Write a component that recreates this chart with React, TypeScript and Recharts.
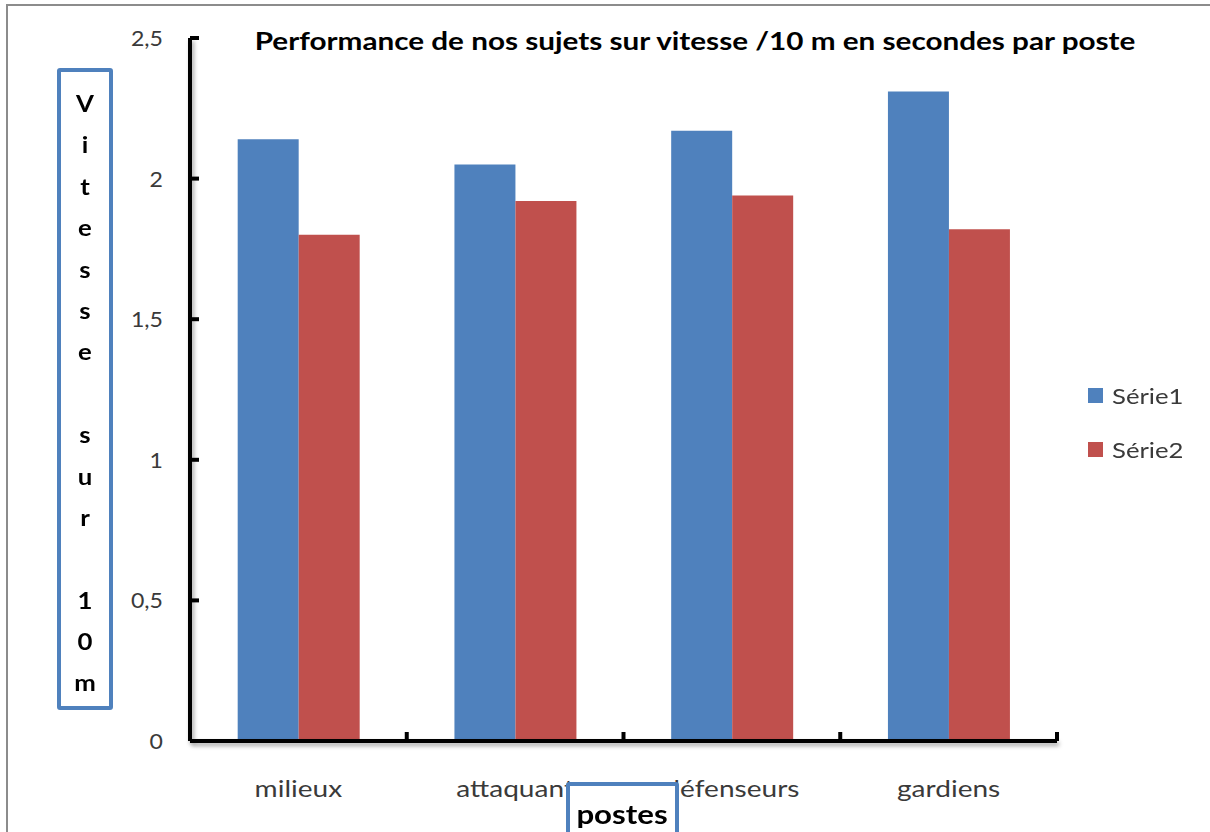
import { BarChart, Bar, XAxis, YAxis, Legend } from "recharts";

const categories = ["milieux", "attaquant", "défenseurs", "gardiens"];
const serie1 = [2.14, 2.05, 2.17, 2.31];
const serie2 = [1.8, 1.92, 1.94, 1.82];
const yTicks = [0, 0.5, 1, 1.5, 2, 2.5];

const data = categories.map((name, i) => ({
  name,
  s1: serie1[i],
  s2: serie2[i],
}));

const BLUE = "#4F81BD";
const RED = "#C0504D";
const FONT = "Lato, 'Open Sans', sans-serif";
const TEXT = "#3a3a3a";

function YTick(props: any) {
  const { x, y, payload } = props;
  return (
    <g>
      <line x1={x} x2={x + 9} y1={y} y2={y} stroke="#000" strokeWidth={4} />
      <text
        transform={`translate(${x - 27},${y + 8}) scale(1.05,1)`}
        textAnchor="end"
        fontSize={22}
        fill={TEXT}
        fontFamily={FONT}
      >
        {String(payload.value).replace(".", ",")}
      </text>
    </g>
  );
}

function XTick(props: any) {
  const { x, y, payload } = props;
  const half = payload.offset || 0;
  return (
    <g>
      <line
        x1={x + half}
        x2={x + half}
        y1={y}
        y2={y - 9}
        stroke="#000"
        strokeWidth={4}
      />
      <text
        transform={`translate(${x},${y + 56}) scale(1.22,1)`}
        textAnchor="middle"
        fontSize={23}
        fill={TEXT}
        fontFamily={FONT}
      >
        {payload.value}
      </text>
    </g>
  );
}

function LegendBox(props: any) {
  const { payload } = props;
  return (
    <div style={{ fontFamily: FONT }}>
      {(payload || []).map((p: any) => (
        <div
          key={p.value}
          style={{
            display: "flex",
            alignItems: "center",
            height: 54,
            fontSize: 22,
            color: TEXT,
          }}
        >
          <span
            style={{
              width: 15,
              height: 15,
              background: p.color,
              marginRight: 9,
              display: "inline-block",
            }}
          />
          <span
            style={{
              display: "inline-block",
              transform: "scaleX(1.17)",
              transformOrigin: "left center",
            }}
          >
            {p.value}
          </span>
        </div>
      ))}
    </div>
  );
}

export default function App() {
  const letters = "Vitesse sur 10m".split("");
  return (
    <div
      style={{
        position: "absolute",
        left: 0,
        top: 0,
        width: 1210,
        height: 832,
        overflow: "hidden",
        background: "#fff",
        fontFamily: FONT,
      }}
    >
      <style>{`.recharts-cartesian-axis-line { filter: drop-shadow(2px 3px 2px rgba(0,0,0,0.35)); }`}</style>
      {/* outer frame */}
      <div
        style={{
          position: "absolute",
          left: 6,
          top: 4,
          width: 1400,
          height: 1000,
          borderTop: "2px solid #8c8c8c",
          borderLeft: "2px solid #8c8c8c",
        }}
      />
      <div style={{ position: "absolute", left: 0, top: 0 }}>
        <BarChart
          width={1210}
          height={832}
          data={data}
          margin={{ top: 38, right: 33, bottom: 0, left: 0 }}
          barCategoryGap="22%"
          barGap={0}
        >
          <XAxis
            dataKey="name"
            height={91}
            tickSize={0}
            tickMargin={0}
            axisLine={{ stroke: "#000", strokeWidth: 4 }}
            tickLine={false}
            tick={<XTick />}
            interval={0}
          />
          <YAxis
            width={190}
            domain={[0, 2.5]}
            ticks={yTicks}
            tickSize={0}
            tickMargin={0}
            axisLine={{ stroke: "#000", strokeWidth: 4 }}
            tickLine={false}
            tick={<YTick />}
            interval={0}
          />
          <Bar dataKey="s1" name="Série1" fill={BLUE} isAnimationActive={false} />
          <Bar dataKey="s2" name="Série2" fill={RED} isAnimationActive={false} />
          <Legend
            layout="vertical"
            verticalAlign="top"
            align="right"
            content={<LegendBox />}
            wrapperStyle={{ position: "absolute", left: 1088, top: 368, width: 120 }}
          />
        </BarChart>
      </div>
      {/* title */}
      <div
        style={{
          position: "absolute",
          left: 695,
          top: 26,
          whiteSpace: "nowrap",
          transform: "translateX(-50%) scaleX(1.236)",
          fontWeight: 700,
          fontSize: 24,
          color: "#000",
        }}
      >
        Performance de nos sujets sur vitesse /10 m en secondes par poste
      </div>
      {/* y axis title */}
      <div
        style={{
          position: "absolute",
          left: 57,
          top: 68,
          width: 56,
          height: 642,
          boxSizing: "border-box",
          border: `4px solid ${BLUE}`,
          borderRadius: 3,
          paddingTop: 11,
          background: "#fff",
        }}
      >
        {letters.map((c, i) => (
          <div
            key={i}
            style={{
              height: 41.4,
              lineHeight: "41.4px",
              textAlign: "center",
              fontWeight: 700,
              fontSize: 23,
              color: "#000",
              transform: "scaleX(1.12)",
            }}
          >
            {c === " " ? "\u00a0" : c}
          </div>
        ))}
      </div>
      {/* x axis title */}
      <div
        style={{
          position: "absolute",
          left: 566,
          top: 782,
          width: 113,
          height: 80,
          boxSizing: "border-box",
          border: `4px solid ${BLUE}`,
          borderRadius: 3,
          background: "#fff",
          textAlign: "center",
          fontWeight: 700,
          fontSize: 26,
          lineHeight: "56px",
          color: "#000",
        }}
      >
        <span style={{ display: "inline-block", transform: "scaleX(1.2)" }}>postes</span>
      </div>
    </div>
  );
}
